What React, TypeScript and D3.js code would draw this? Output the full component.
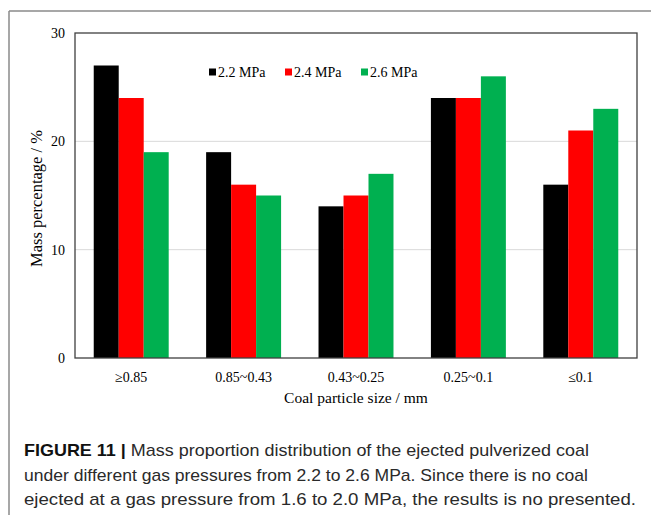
import React, { useEffect, useRef } from "react"
import * as d3 from "d3"

const categories = ["≥0.85", "0.85~0.43", "0.43~0.25", "0.25~0.1", "≤0.1"]
const seriesNames = ["2.2 MPa", "2.4 MPa", "2.6 MPa"]
const p22 = [27, 19, 14, 24, 16]
const p24 = [24, 16, 15, 24, 21]
const p26 = [19, 15, 17, 26, 23]
const yTicks = [0, 10, 20, 30]
const colors = ["#000000", "#ff0000", "#00b050"]
const caption = [
  "Mass proportion distribution of the ejected pulverized coal",
  "under different gas pressures from 2.2 to 2.6 MPa. Since there is no coal",
  "ejected at a gas pressure from 1.6 to 2.0 MPa, the results is no presented.",
]

const width = 651
const height = 515
const margin = { left: 75, right: 14, top: 33, bottom: 157 }

export default function App() {
  const ref = useRef<SVGSVGElement>(null)

  useEffect(() => {
    const svg = d3.select(ref.current)
    svg.selectAll("*").remove()

    const series = [p22, p24, p26]
    const x0 = d3
      .scaleBand()
      .domain(categories)
      .range([margin.left, width - margin.right])
      .paddingInner(0.333)
      .paddingOuter(0.1667)
    const x1 = d3
      .scaleBand()
      .domain(seriesNames)
      .range([0, x0.bandwidth()])
    const y = d3
      .scaleLinear()
      .domain([0, 30])
      .range([height - margin.bottom, margin.top])

    // outer frame of the figure
    svg.append("line").attr("x1", 9).attr("x2", width).attr("y1", 11).attr("y2", 11).attr("stroke", "#8a8a8a").attr("stroke-width", 1.5)
    svg.append("line").attr("x1", 9).attr("x2", 9).attr("y1", 11).attr("y2", height).attr("stroke", "#8a8a8a").attr("stroke-width", 1.5)

    // gridlines
    svg
      .append("g")
      .selectAll("line")
      .data(yTicks.filter(d => d > 0 && d < 30))
      .join("line")
      .attr("x1", margin.left)
      .attr("x2", width - margin.right)
      .attr("y1", d => y(d))
      .attr("y2", d => y(d))
      .attr("stroke", "#d9d9d9")

    // bars
    const groups = svg
      .append("g")
      .selectAll("g")
      .data(categories)
      .join("g")
      .attr("transform", d => `translate(${x0(d)},0)`)
    groups
      .selectAll("rect")
      .data((d, i) => seriesNames.map((s, j) => ({ s, j, v: series[j][i] })))
      .join("rect")
      .attr("x", d => x1(d.s)!)
      .attr("width", x1.bandwidth())
      .attr("y", d => y(d.v))
      .attr("height", d => y(0) - y(d.v))
      .attr("fill", d => colors[d.j])

    // plot border
    svg
      .append("rect")
      .attr("x", margin.left)
      .attr("y", margin.top)
      .attr("width", width - margin.left - margin.right)
      .attr("height", height - margin.top - margin.bottom)
      .attr("fill", "none")
      .attr("stroke", "#404040")
      .attr("stroke-width", 1.3)

    const serif = "'Liberation Serif', 'Times New Roman', serif"

    // y tick labels
    svg
      .append("g")
      .attr("font-family", serif)
      .attr("font-size", 14)
      .attr("text-anchor", "end")
      .selectAll("text")
      .data(yTicks)
      .join("text")
      .attr("x", 65)
      .attr("y", d => y(d))
      .attr("dy", "0.35em")
      .text(d => d)

    // x tick labels
    svg
      .append("g")
      .attr("font-family", serif)
      .attr("font-size", 14)
      .attr("text-anchor", "middle")
      .selectAll("text")
      .data(categories)
      .join("text")
      .attr("x", d => x0(d)! + x0.bandwidth() / 2)
      .attr("y", 382)
      .text(d => d)

    svg
      .append("text")
      .attr("font-family", serif)
      .attr("font-size", 15.5)
      .attr("text-anchor", "middle")
      .attr("x", (margin.left + width - margin.right) / 2)
      .attr("y", 403)
      .text("Coal particle size / mm")

    svg
      .append("text")
      .attr("font-family", serif)
      .attr("font-size", 16.5)
      .attr("text-anchor", "middle")
      .attr("transform", `translate(42,${(y(0) + y(30)) / 2 + 3}) rotate(-90)`)
      .text("Mass percentage / %")

    // legend
    const legendX = [209, 285, 361]
    const legend = svg
      .append("g")
      .selectAll("g")
      .data(seriesNames)
      .join("g")
      .attr("transform", (d, i) => `translate(${legendX[i]},72)`)
    legend
      .append("rect")
      .attr("x", 0)
      .attr("y", -3.5)
      .attr("width", 7)
      .attr("height", 7)
      .attr("fill", (d, i) => colors[i])
    legend
      .append("text")
      .attr("x", 9)
      .attr("dy", "0.35em")
      .attr("font-family", serif)
      .attr("font-size", 14)
      .text(d => d)

    // caption
    const sans = "'Liberation Sans', Arial, sans-serif"
    const cap = svg.append("g").attr("font-family", sans).attr("font-size", 17).attr("fill", "#2a2a2a")
    const first = cap
      .append("text")
      .attr("x", 24)
      .attr("y", 456)
      .attr("textLength", 565)
      .attr("lengthAdjust", "spacingAndGlyphs")
    first.append("tspan").attr("font-weight", "bold").attr("fill", "#111").text("FIGURE 11 | ")
    first.append("tspan").text(caption[0])
    cap.append("text").attr("x", 24).attr("y", 481).attr("textLength", 564).attr("lengthAdjust", "spacingAndGlyphs").text(caption[1])
    cap.append("text").attr("x", 24).attr("y", 505).attr("textLength", 612).attr("lengthAdjust", "spacingAndGlyphs").text(caption[2])
  }, [])

  return (
    <svg
      ref={ref}
      width={width}
      height={height}
      style={{ position: "absolute", left: 0, top: 0, background: "#fff" }}
    />
  )
}
